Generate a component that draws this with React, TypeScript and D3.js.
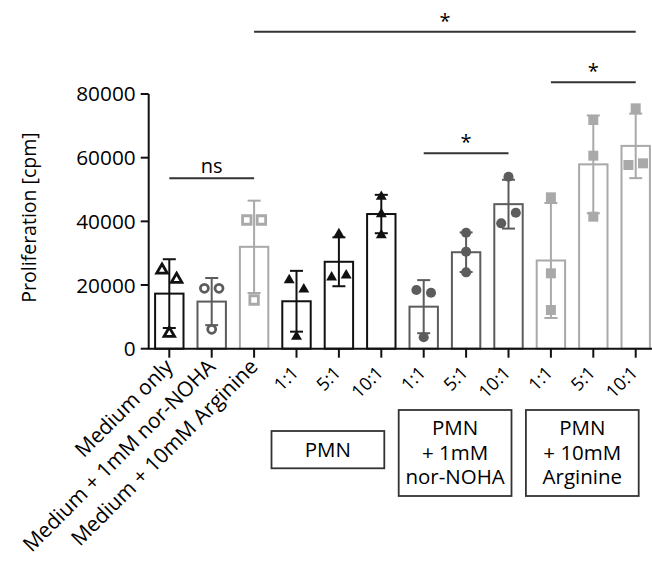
import React from "react";
import * as d3 from "d3";

const categories = [
  "Medium only",
  "Medium + 1mM nor-NOHA",
  "Medium + 10mM Arginine",
  "1:1", "5:1", "10:1",
  "1:1", "5:1", "10:1",
  "1:1", "5:1", "10:1",
];
const means = [17300, 14800, 32000, 14900, 27300, 42300, 13200, 30300, 45400, 27700, 57900, 63700];
const sds = [10800, 7400, 14500, 9550, 7680, 6030, 8340, 6220, 7670, 18060, 15360, 10130];
const points = [
  [24700, 21800, 4800],
  [18970, 18970, 6090],
  [40420, 40420, 15300],
  [21580, 18650, 3770],
  [36020, 22420, 23050],
  [47740, 42300, 35710],
  [18430, 17590, 3580],
  [36430, 30470, 23990],
  [54020, 42710, 39380],
  [47550, 23680, 12150],
  [71830, 60620, 41460],
  [75500, 57700, 58230],
];
// horizontal jitter slot of each point: -1 left, 0 centre, 1 right
const jitter = [
  [-1, 1, 0], [-1, 1, 0], [-1, 1, 0],
  [-1, 1, 0], [0, -1, 1], [0, 0, 0],
  [-1, 1, 0], [0, 0, 0], [0, 1, -1],
  [0, 0, 0], [0, 0, 0], [0, -1, 1],
];
// colour group / marker of each bar
const colorKey = ["k", "d", "l", "k", "k", "k", "d", "d", "d", "l", "l", "l"];
const openMarker = [true, true, true, false, false, false, false, false, false, false, false, false];
const yTicks = [0, 20000, 40000, 60000, 80000];
const groupBoxes = [
  { first: 3, last: 5, lines: ["PMN"] },
  { first: 6, last: 8, lines: ["PMN", "+ 1mM", "nor-NOHA"] },
  { first: 9, last: 11, lines: ["PMN", "+ 10mM", "Arginine"] },
];
const sigs = [
  { from: 0, to: 2, level: 178.3, label: "ns" },
  { from: 6, to: 8, level: 153.3, label: "*" },
  { from: 9, to: 11, level: 82.3, label: "*" },
  { from: 2, to: 11, level: 31.7, label: "*" },
];

const COLORS: Record<string, string> = { k: "#111111", d: "#5c5c5c", l: "#a9a9a9" };
const FONT = "'Open Sans', 'Noto Sans', sans-serif";

export default function App() {
  const W = 652, H = 565;
  const y = d3.scaleLinear().domain([0, 80000]).range([348.7, 94]);
  const x = d3
    .scaleBand<number>()
    .domain(d3.range(categories.length))
    .range([148.1, 656.9])
    .paddingInner(0.33)
    .paddingOuter(0.165);
  const bw = x.bandwidth();
  const cx = (i: number) => (x(i) as number) + bw / 2;
  const axisX = 148.7;
  const axisY = 348.7;

  const markerPath = (i: number) => {
    const c = colorKey[i];
    const type = c === "k" ? d3.symbolTriangle : c === "d" ? d3.symbolCircle : d3.symbolSquare;
    const open = openMarker[i];
    let size = c === "k" ? 52 : c === "d" ? 80 : 100;
    if (open) size = c === "k" ? 48 : c === "d" ? 50 : 72;
    return d3.symbol().type(type).size(size)() as string;
  };

  return (
    <svg width={W} height={H} style={{ position: "absolute", left: 0, top: 0, background: "#fff" }} fontFamily={FONT}>
      {/* y axis */}
      <line x1={axisX} x2={axisX} y1={y(80000)} y2={axisY} stroke="#111" strokeWidth={2} />
      {yTicks.map((t) => (
        <g key={t}>
          <line x1={axisX - 8} x2={axisX} y1={y(t)} y2={y(t)} stroke="#111" strokeWidth={2} />
          <text x={axisX - 13} y={y(t)} dy="0.36em" textAnchor="end" fontSize={20.8} fill="#000">
            {t}
          </text>
        </g>
      ))}
      <text
        transform={`translate(36,217.5) rotate(-90)`}
        textAnchor="middle"
        fontSize={19.5}
        fill="#000"
      >
        Proliferation [cpm]
      </text>

      {/* bars */}
      {means.map((m, i) => (
        <rect
          key={"b" + i}
          x={x(i)}
          y={y(m)}
          width={bw}
          height={axisY - y(m)}
          fill="none"
          stroke={COLORS[colorKey[i]]}
          strokeWidth={2}
        />
      ))}

      {/* x axis */}
      <line x1={axisX - 1} x2={W} y1={axisY} y2={axisY} stroke="#111" strokeWidth={2} />
      {categories.map((c, i) => (
        <line key={"t" + i} x1={cx(i)} x2={cx(i)} y1={axisY} y2={axisY + 9} stroke="#111" strokeWidth={2} />
      ))}

      {/* error bars */}
      {means.map((m, i) => {
        const col = COLORS[colorKey[i]];
        const lo = Math.max(0, m - sds[i]);
        const hi = m + sds[i];
        return (
          <g key={"e" + i} stroke={col} strokeWidth={2}>
            <line x1={cx(i)} x2={cx(i)} y1={y(lo)} y2={y(hi)} />
            <line x1={cx(i) - 6.5} x2={cx(i) + 6.5} y1={y(hi)} y2={y(hi)} />
            <line x1={cx(i) - 6.5} x2={cx(i) + 6.5} y1={y(lo)} y2={y(lo)} />
          </g>
        );
      })}

      {/* points */}
      {points.map((ps, i) =>
        ps.map((v, j) => {
          const col = COLORS[colorKey[i]];
          const open = openMarker[i];
          const px = cx(i) + jitter[i][j] * 7.3;
          return (
            <path
              key={`p${i}-${j}`}
              d={markerPath(i)}
              transform={`translate(${px},${y(v)})`}
              fill={open ? "#fff" : col}
              stroke={col}
              strokeWidth={open ? 2.8 : 0}
            />
          );
        })
      )}

      {/* significance */}
      {sigs.map((s, k) => {
        const x1 = cx(s.from), x2 = cx(s.to);
        return (
          <g key={"s" + k}>
            <line x1={x1} x2={x2} y1={s.level} y2={s.level} stroke="#333" strokeWidth={2} />
            <text
              x={(x1 + x2) / 2}
              y={s.label === "ns" ? s.level - 5.5 : s.level - 4}
              textAnchor="middle"
              fontSize={20}
              fill="#000"
            >
              {s.label}
            </text>
          </g>
        );
      })}

      {/* category labels */}
      {categories.map((c, i) =>
        i < 3 ? (
          <text
            key={"c" + i}
            transform={`translate(${cx(i) + 5},${368}) rotate(-45)`}
            textAnchor="end"
            fontSize={21}
            fill="#000"
          >
            {c}
          </text>
        ) : (
          <text
            key={"c" + i}
            transform={`translate(${cx(i) + 3},${374}) rotate(-45)`}
            textAnchor="end"
            fontSize={18}
            fill="#000"
          >
            {c}
          </text>
        )
      )}

      {/* group boxes */}
      {groupBoxes.map((g, k) => {
        const left = cx(g.first) - 25;
        const right = cx(g.last) + 3;
        const oneLine = g.lines.length === 1;
        const top = oneLine ? 431 : 410;
        const bottom = oneLine ? 468.3 : 496;
        const mid = (left + right) / 2;
        return (
          <g key={"g" + k}>
            <rect x={left} y={top} width={right - left} height={bottom - top} fill="none" stroke="#333" strokeWidth={1.8} />
            {g.lines.map((ln, j) => (
              <text
                key={j}
                x={mid}
                y={oneLine ? 456.7 : 435 + j * 24.5}
                textAnchor="middle"
                fontSize={20.5}
                fill="#000"
              >
                {ln}
              </text>
            ))}
          </g>
        );
      })}
    </svg>
  );
}
